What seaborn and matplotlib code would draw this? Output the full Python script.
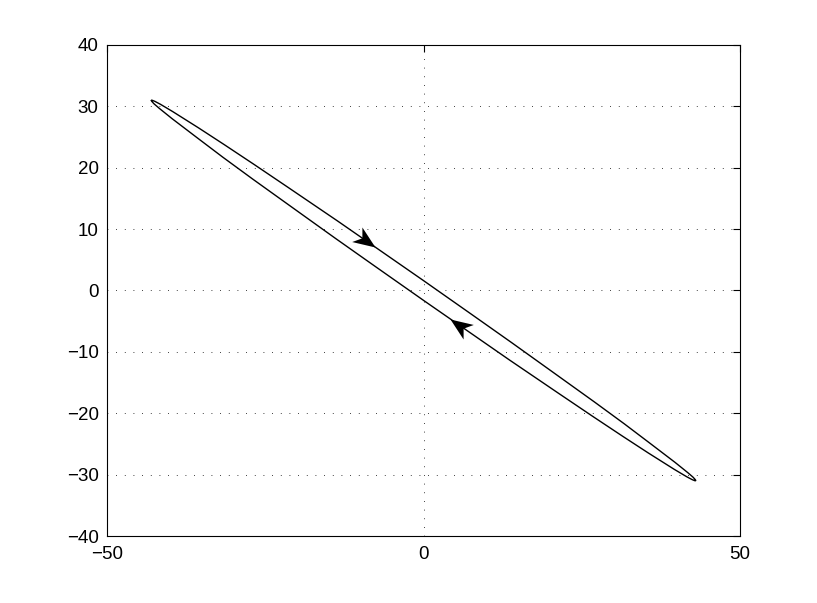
import matplotlib
matplotlib.use("Agg")
import matplotlib.pyplot as plt
import seaborn as sns
import pandas as pd
from matplotlib.path import Path
from matplotlib.markers import MarkerStyle
from matplotlib.transforms import Affine2D

# closed loop (clockwise: upper branch down, lower branch back up)
loop_x = [-43.00, -42.95, -42.86, -42.45, -41.55, -39.61, -35.49, -31.46, -26.73, -21.40,
          -13.56, -7.31, 0.00, 7.66, 13.90, 19.83, 27.01, 31.71, 35.68, 39.74, 41.75,
          42.57, 42.89, 42.98, 43.00,
          42.95, 42.86, 42.45, 41.55, 39.61, 35.49, 31.46, 26.73, 21.40,
          13.56, 7.31, 0.00, -7.66, -13.90, -19.83, -27.01, -31.71, -35.68, -39.74, -41.75,
          -42.57, -42.89, -42.98, -43.00]
loop_y = [30.96, 31.00, 30.99, 30.82, 30.33, 29.14, 26.46, 23.75, 20.51, 16.80,
          11.31, 6.84, 1.61, -3.94, -8.48, -12.86, -18.17, -21.72, -24.82, -28.01, -29.68,
          -30.41, -30.77, -30.90, -30.96,
          -31.00, -30.99, -30.82, -30.33, -29.14, -26.46, -23.75, -20.51, -16.80,
          -11.31, -6.84, -1.61, 3.94, 8.48, 12.86, 18.17, 21.72, 24.82, 28.01, 29.68,
          30.41, 30.77, 30.90, 30.96]

# arrow heads (tip position, direction in degrees on screen)
arrow_x = [-7.7, 4.2]
arrow_y = [7.15, -4.6]
arrow_ang = [-35, 145]

xticks = [-50, 0, 50]
yticks = [-40, -30, -20, -10, 0, 10, 20, 30, 40]

sns.set_style("white")
plt.rcParams['font.family'] = ['Liberation Sans', 'DejaVu Sans']

df = pd.DataFrame({"x": loop_x, "y": loop_y})

fig = plt.figure(figsize=(8.17, 6.03), dpi=100)
ax = fig.add_axes([0.131, 0.1111, 0.7748, 0.8143])

sns.lineplot(data=df, x="x", y="y", sort=False, estimator=None,
             color="black", linewidth=1.0, ax=ax)

# concave arrow head marker, tip at origin pointing to +x
head = Path([(0, 0), (-1.0, 0.4), (-0.72, 0), (-1.0, -0.4), (0, 0)],
            [Path.MOVETO, Path.LINETO, Path.LINETO, Path.LINETO, Path.CLOSEPOLY])
for px, py, ang in zip(arrow_x, arrow_y, arrow_ang):
    m = MarkerStyle(head, transform=Affine2D().rotate_deg(ang))
    ax.plot([px], [py], marker=m, markersize=32, color="black",
            markeredgewidth=0, linestyle="none")

ax.set_xlim(-50, 50)
ax.set_ylim(-40, 40)
ax.set_xticks(xticks)
ax.set_yticks(yticks)
ax.set_xlabel("")
ax.set_ylabel("")
ax.grid(True, linestyle=(0, (1, 9.4)), color="black", linewidth=0.6)
ax.tick_params(direction="in", length=5, width=0.8, top=True, right=True,
               labelsize=13.5, colors="black")
ax.tick_params(axis="x", pad=7)
ax.tick_params(axis="y", pad=6)
for s in ax.spines.values():
    s.set_color("black")
    s.set_linewidth(0.8)

fig.savefig("out.png", dpi=100)
